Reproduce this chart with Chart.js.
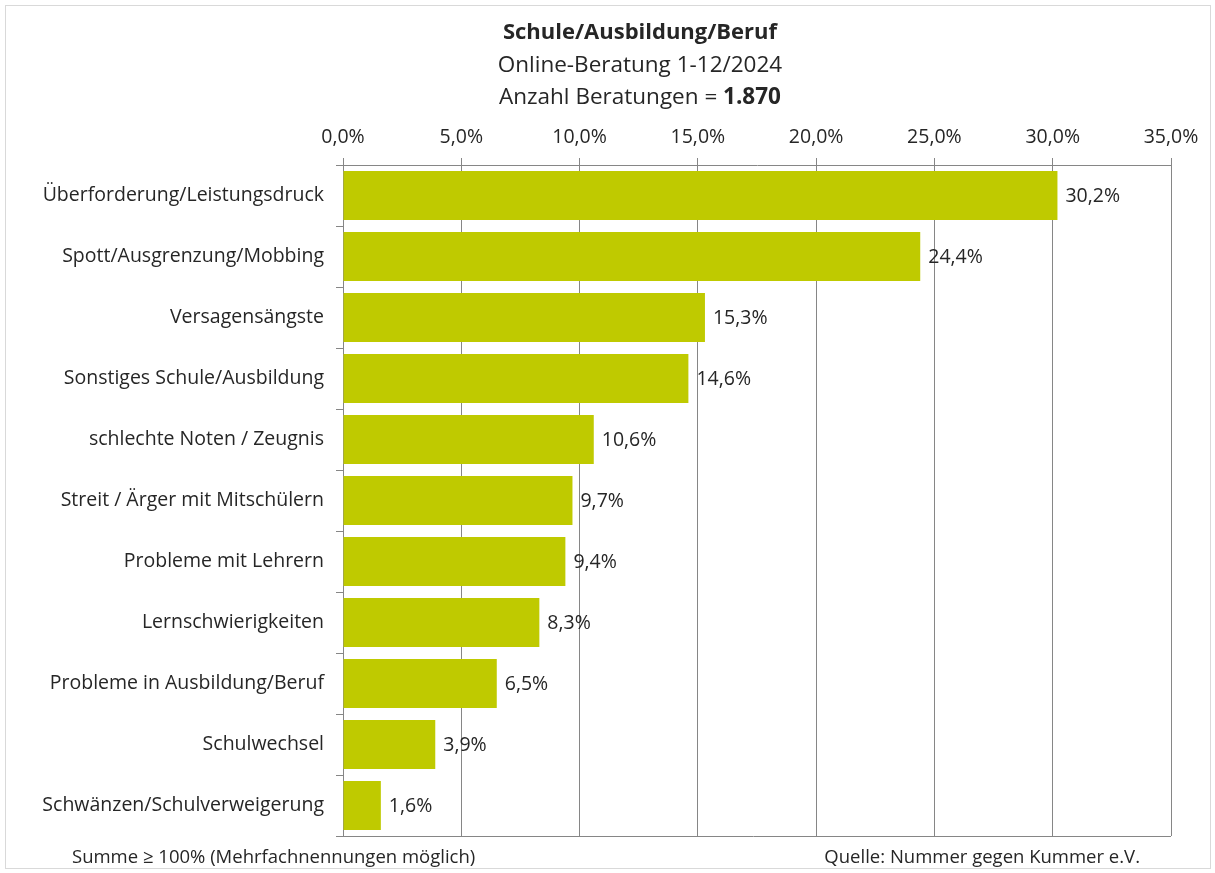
<!DOCTYPE html>
<html>
<head>
<meta charset="utf-8">
<script src="https://cdn.jsdelivr.net/npm/chart.js@4"></script>
<style>
  body { margin: 0; background: #fff; }
  #wrap { position: relative; width: 1215px; height: 873px; font-family: "Open Sans", sans-serif; color: #262626; }
  #frame { position: absolute; left: 5px; top: 5px; width: 1206px; height: 864px; border: 1px solid #d9d9d9; box-sizing: border-box; }
  canvas { position: absolute; left: 0; top: 0; }
  .t { position: absolute; left: 0; width: 1280px; text-align: center; white-space: nowrap; }
  .foot { position: absolute; top: 843px; font-size: 18.5px; white-space: nowrap; }
</style>
</head>
<body>
<div id="wrap">
  <div id="frame"></div>
  <canvas id="barChart" width="1215" height="873"></canvas>
  <div class="t" style="top:15px;font-size:22px;font-weight:bold;">Schule/Ausbildung/Beruf</div>
  <div class="t" style="top:48px;font-size:22.5px;">Online-Beratung 1-12/2024</div>
  <div class="t" style="top:80px;font-size:22.5px;">Anzahl Beratungen = <b>1.870</b></div>
  <div class="foot" style="left:72px;">Summe &ge; 100% (Mehrfachnennungen möglich)</div>
  <div class="foot" style="right:75px;">Quelle: Nummer gegen Kummer e.V.</div>
</div>
<script>
// Themen Schule/Ausbildung/Beruf
const categories = [
    "Überforderung/Leistungsdruck", "Spott/Ausgrenzung/Mobbing", "Versagensängste",
    "Sonstiges Schule/Ausbildung", "schlechte Noten / Zeugnis", "Streit / Ärger mit Mitschülern",
    "Probleme mit Lehrern", "Lernschwierigkeiten", "Probleme in Ausbildung/Beruf",
    "Schulwechsel", "Schwänzen/Schulverweigerung"
];

const shares = [30.2, 24.4, 15.3, 14.6, 10.6, 9.7, 9.4, 8.3, 6.5, 3.9, 1.6];

const axisMax = 35;
const axisStep = 5;

const fmt = (v, d) => v.toFixed(d).replace('.', ',') + '%';
const fontFamily = '"Open Sans", sans-serif';

// Werte rechts neben die Balken schreiben
const valueLabels = {
    id: 'valueLabels',
    afterDatasetsDraw(chart) {
        const c = chart.ctx;
        const meta = chart.getDatasetMeta(0);
        c.save();
        c.font = '19.5px ' + fontFamily;
        c.fillStyle = '#262626';
        c.textAlign = 'left';
        c.textBaseline = 'middle';
        meta.data.forEach((bar, i) => {
            c.fillText(fmt(shares[i], 1), bar.x + 8, bar.y + 1);
        });
        c.restore();
    }
};

// untere Rahmenlinie des Plotbereichs
const bottomLine = {
    id: 'bottomLine',
    afterDraw(chart) {
        const a = chart.chartArea;
        const c = chart.ctx;
        c.save();
        c.strokeStyle = '#868686';
        c.lineWidth = 1;
        c.beginPath();
        c.moveTo(a.left - 7, Math.round(a.bottom) + 0.5);
        c.lineTo(a.right, Math.round(a.bottom) + 0.5);
        c.stroke();
        c.restore();
    }
};

const ctx = document.getElementById('barChart').getContext('2d');
const barChart = new Chart(ctx, {
    type: 'bar',
    data: {
        labels: categories,
        datasets: [{
            data: shares,
            backgroundColor: '#bfca00',
            borderWidth: 0,
            categoryPercentage: 1,
            barPercentage: 0.8
        }]
    },
    options: {
        indexAxis: 'y',
        responsive: false,
        animation: false,
        layout: { padding: { top: 110, right: 44, bottom: 37, left: 0 } },
        plugins: {
            legend: { display: false },
            tooltip: { enabled: false }
        },
        scales: {
            x: {
                position: 'top',
                min: 0,
                max: axisMax,
                afterFit(scale) { scale.height = 55; },
                ticks: {
                    stepSize: axisStep,
                    padding: 9,
                    color: '#262626',
                    font: { size: 19.5, family: fontFamily },
                    callback: v => fmt(v, 1)
                },
                grid: { color: '#868686', lineWidth: 1, tickLength: 7 },
                border: { color: '#868686' }
            },
            y: {
                afterFit(scale) { scale.width = 343; },
                ticks: {
                    padding: 12,
                    color: '#262626',
                    font: { size: 19.5, family: fontFamily }
                },
                grid: { drawOnChartArea: false, color: '#868686', tickLength: 7 },
                border: { color: '#868686' }
            }
        }
    },
    plugins: [valueLabels, bottomLine]
});
</script>
</body>
</html>
